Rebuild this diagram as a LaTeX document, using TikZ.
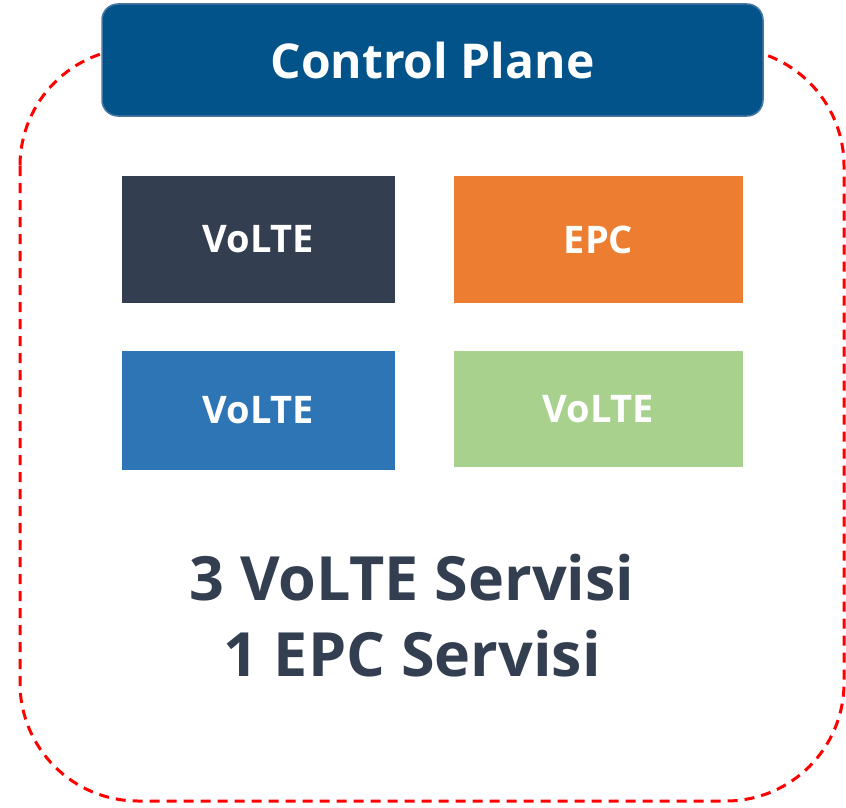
\documentclass[tikz,border=0pt]{standalone}
\usepackage{fontspec}
\setmainfont{Open Sans}
\usetikzlibrary{calc}
\definecolor{planeblue}{HTML}{02538A}
\definecolor{planeedge}{HTML}{4A76A4}
\definecolor{slate}{HTML}{333F50}
\definecolor{epcorange}{HTML}{ED7D31}
\definecolor{voblue}{HTML}{2E75B6}
\definecolor{vogreen}{HTML}{A9D18E}
\tikzset{
    plane/.style =  {rectangle,
                    rounded corners=16pt,
                    fill=planeblue,
                    draw=planeedge,
                    text=white,
                    line width=1.5pt,
                    font=\bfseries\fontsize{48}{54}\selectfont,
                    minimum width=661pt,
                    minimum height=112pt},
    service/.style = {rectangle,
                    text=white,
                    font=\bfseries\fontsize{38}{44}\selectfont,
                    inner sep=0pt},
    count/.style =  {text=slate,
                    align=center,
                    font=\bfseries\fontsize{61}{76}\selectfont},
    border/.style = {draw=red,
                    dashed,
                    dash pattern=on 10pt off 7pt,
                    line width=3pt,
                    rounded corners=118pt}}
\begin{document}
\begin{tikzpicture}[x=1pt,y=-1pt]
    \useasboundingbox (0,0) rectangle (846,808);
    % dashed frame
    \draw[border] (20,48) rectangle (844,801);
    % header
    \node[plane] (cp) at (432.5,60) {Control Plane};
    % services
    \node[service,fill=slate,minimum width=273pt,minimum height=127pt] (v1) at (258.5,239.5) {VoLTE};
    \node[service,fill=epcorange,minimum width=289pt,minimum height=127pt] (epc) at (598.5,239.5) {EPC};
    \node[service,fill=voblue,minimum width=273pt,minimum height=119pt] (v2) at (258.5,410.5) {VoLTE};
    \node[service,fill=vogreen,minimum width=289pt,minimum height=116pt] (v3) at (598.5,409) {VoLTE};
    % summary
    \node[count] (sum) at (412,616) {3 VoLTE Servisi\\1 EPC Servisi};
\end{tikzpicture}
\end{document}
